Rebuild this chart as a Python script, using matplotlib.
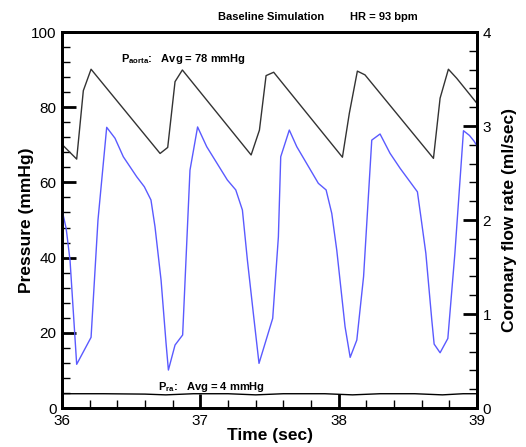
import numpy as np
import matplotlib
matplotlib.use('Agg')
import matplotlib.pyplot as plt
from matplotlib.ticker import MultipleLocator

plt.rcParams['font.family'] = ['Liberation Sans', 'DejaVu Sans']
plt.rcParams['mathtext.fontset'] = 'custom'
plt.rcParams['mathtext.rm'] = 'Liberation Sans:bold'
plt.rcParams['mathtext.bf'] = 'Liberation Sans:bold'

#aortic pressure (mmHg)
t_aorta = [36.0, 36.106, 36.154, 36.21, 36.709, 36.764, 36.817, 36.87,
           37.367, 37.427, 37.475, 37.53, 38.027, 38.077, 38.135, 38.19,
           38.685, 38.733, 38.793, 38.853, 39.0]
p_aorta = [70.1, 66.2, 84.4, 90.1, 67.7, 69.3, 86.8, 89.9,
           67.3, 73.9, 88.4, 89.3, 66.7, 78.4, 89.6, 88.6,
           66.4, 82.4, 90.1, 87.7, 81.0]

#right atrial pressure (mmHg)
t_ra = [36.0, 36.3, 36.6, 36.75, 36.95, 37.2, 37.4, 37.6, 37.9, 38.1,
        38.3, 38.55, 38.75, 38.9, 39.0]
p_ra = [3.8, 3.8, 3.7, 3.5, 3.8, 3.8, 3.5, 3.8, 3.8, 3.5,
        3.8, 3.8, 3.5, 3.8, 3.8]

#coronary flow (ml/sec)
t_flow = [36.0, 36.03, 36.058, 36.106, 36.21, 36.26, 36.323, 36.383, 36.443,
          36.54, 36.595, 36.643, 36.672, 36.716, 36.752, 36.769, 36.817,
          36.872, 36.925, 36.98, 37.046, 37.195, 37.256, 37.304, 37.34,
          37.383, 37.424, 37.523, 37.564, 37.581, 37.643, 37.697, 37.853,
          37.909, 37.95, 37.986, 38.046, 38.083, 38.131, 38.18, 38.239,
          38.299, 38.371, 38.444, 38.569, 38.594, 38.63, 38.673, 38.69,
          38.733, 38.789, 38.84, 38.902, 38.945, 38.978, 39.0]
flow = [2.11, 1.91, 1.57, 0.465, 0.752, 2.0, 2.986, 2.87, 2.673,
        2.46, 2.354, 2.213, 1.93, 1.36, 0.69, 0.404, 0.67,
        0.777, 2.53, 2.99, 2.78, 2.426, 2.32, 2.106, 1.574,
        1.007, 0.475, 0.954, 1.82, 2.673, 2.957, 2.78, 2.39,
        2.32, 2.07, 1.68, 0.865, 0.539, 0.723, 1.4, 2.85,
        2.915, 2.71, 2.55, 2.30, 2.035, 1.646, 0.936, 0.68,
        0.588, 0.74, 1.646, 2.95, 2.90, 2.84, 2.787]

fig = plt.figure(figsize=(5.26, 4.47), dpi=100)
ax = fig.add_axes([0.1179, 0.0872, 0.789, 0.8412])
ax2 = ax.twinx()

ax.plot(t_aorta, p_aorta, color='#333333', lw=1.0)
ax.plot(t_ra, p_ra, color='black', lw=1.0)
ax2.plot(t_flow, flow, color='#5a5aff', lw=1.0)

ax.set_xlim(36, 39)
ax.set_ylim(0, 100)
ax2.set_ylim(0, 4)

ax.xaxis.set_major_locator(MultipleLocator(1))
ax.xaxis.set_minor_locator(MultipleLocator(0.2))
ax.yaxis.set_major_locator(MultipleLocator(20))
ax.yaxis.set_minor_locator(MultipleLocator(4))
ax2.yaxis.set_major_locator(MultipleLocator(1))
ax2.yaxis.set_minor_locator(MultipleLocator(0.2))

for a in (ax, ax2):
    a.tick_params(which='major', direction='in', length=10, width=2, labelsize=11, pad=4)
    a.tick_params(which='minor', direction='in', length=6, width=1)
    for s in a.spines.values():
        s.set_linewidth(2)
ax.tick_params(axis='x', which='both', top=False)
ax.tick_params(axis='y', which='both', right=False)

ax.set_xlabel('Time (sec)', fontsize=12.5, fontweight='bold', labelpad=0)
ax.set_ylabel('Pressure (mmHg)', fontsize=12.5, fontweight='bold', labelpad=-2)
ax2.set_ylabel('Coronary flow rate (ml/sec)', fontsize=12.5, fontweight='bold', labelpad=8)

fig.text(0.515, 0.962, 'Baseline Simulation', fontsize=8, fontweight='bold', ha='center', va='center')
fig.text(0.665, 0.962, 'HR = 93 bpm', fontsize=8, fontweight='bold', ha='left', va='center')

ax.text(0.142, 0.928, r'$\mathrm{P}_{\mathrm{aorta}}$:   Avg = 78 mmHg', transform=ax.transAxes,
        fontsize=8, fontweight='bold', ha='left', va='center')
ax.text(0.231, 0.056, r'$\mathrm{P}_{\mathrm{ra}}$:   Avg = 4 mmHg', transform=ax.transAxes,
        fontsize=8, fontweight='bold', ha='left', va='center')

fig.savefig('out.png', dpi=100)
